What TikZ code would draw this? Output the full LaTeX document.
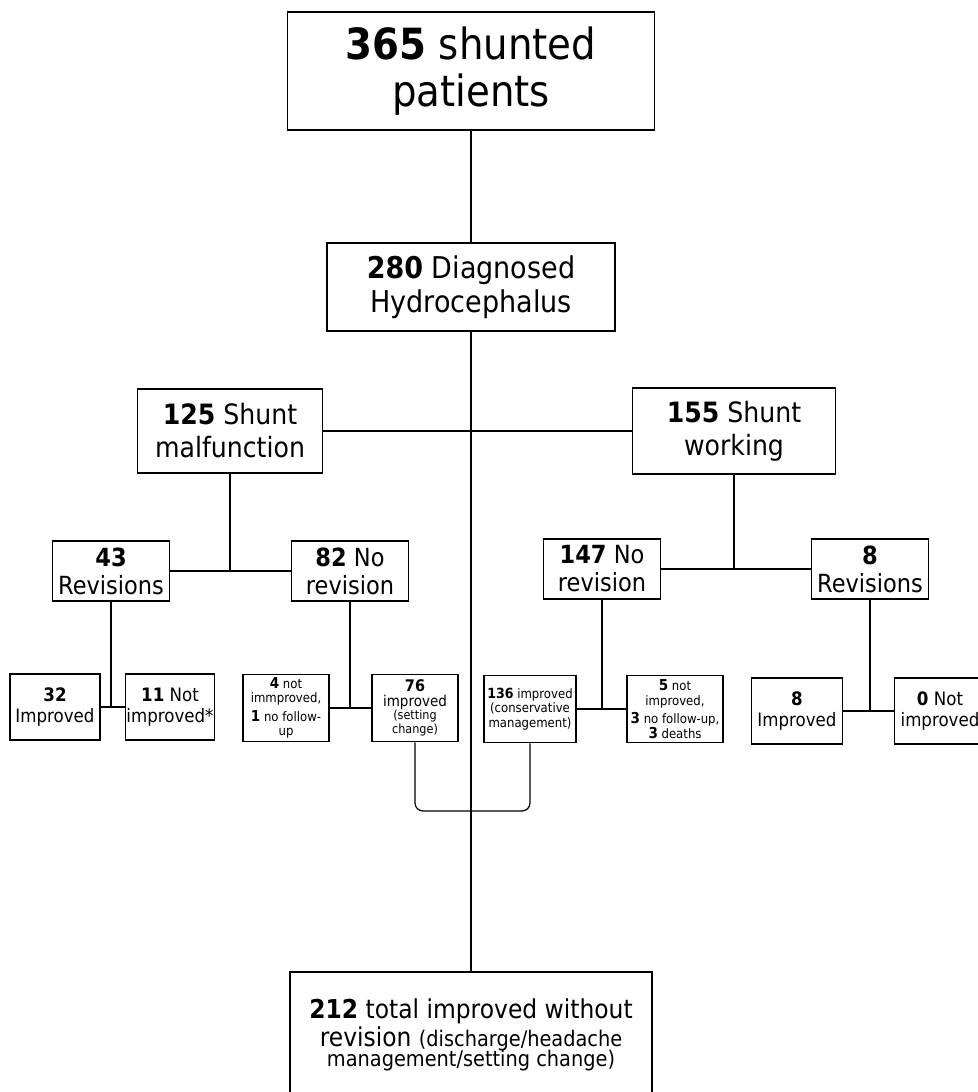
\documentclass[tikz,border=0pt]{standalone}
\usepackage{fontspec}
\setmainfont{DejaVu Sans}[FakeStretch=0.9]
\newcommand{\fsz}[2]{\fontsize{#1}{#2}\selectfont}

\begin{document}
\begin{tikzpicture}[x=1pt,y=-1pt,-,line width=1.7pt,
    main node/.style={draw,rectangle,align=center,inner sep=1pt,line width=1.7pt},
    big node/.style={main node,font=\fsz{28}{33}},
    mid node/.style={main node,font=\fsz{25}{28},minimum width=117pt,minimum height=60pt},
    small node/.style={main node,font=\fsz{18.5}{21},minimum width=90pt,minimum height=66pt},
    tiny node/.style={main node,font=\fsz{13}{14.5},minimum height=67pt}]
    \useasboundingbox (0,0) rectangle (977,1092);

    \node[main node,minimum width=367pt,minimum height=118pt,font=\fsz{43}{47}] (1) at (471,71) {\textbf{365} shunted\\patients};
    \node[big node,minimum width=288pt,minimum height=88pt,font=\fsz{30}{34}] (2) at (471,287) {\textbf{280} Diagnosed\\Hydrocephalus};
    \node[big node,minimum width=185pt,minimum height=84pt] (3) at (230,431) {\textbf{125} Shunt\\malfunction};
    \node[big node,minimum width=203pt,minimum height=86pt] (4) at (734,431) {\textbf{155} Shunt\\working};

    \node[mid node] (5) at (111,571) {\textbf{43}\\Revisions};
    \node[mid node] (6) at (350,571) {\textbf{82} No\\revision};
    \node[mid node] (7) at (602,569) {\textbf{147} No\\revision};
    \node[mid node] (8) at (870,569) {\textbf{8}\\Revisions};

    \node[small node] (9) at (55,707) {\textbf{32}\\Improved};
    \node[small node,minimum width=89pt] (10) at (170,707) {\textbf{11} Not\\improved*};
    \node[tiny node,minimum width=86pt] (11) at (286,708) {{\fsz{15}{15}\textbf{4}} not\\immproved,\\[4pt]{\fsz{15}{15}\textbf{1}} no follow-\\up};
    \node[tiny node,minimum width=86pt,font=\fsz{12.5}{13.5}] (12) at (415,708) {{\fsz{16}{16}\textbf{76}}\\[1pt]{\fsz{15}{15}improved}\\(setting\\change)};
    \node[tiny node,minimum width=92pt] (13) at (530,709) {{\fsz{14}{14}\textbf{136}} improved\\(conservative\\management)};
    \node[tiny node,minimum width=96pt] (14) at (675,709) {{\fsz{15}{15}\textbf{5}} not\\improved,\\[4pt]{\fsz{15}{15}\textbf{3}} no follow-up,\\{\fsz{15}{15}\textbf{3}} deaths};
    \node[small node,minimum width=91pt] (15) at (797,711) {\textbf{8}\\Improved};
    \node[small node,minimum width=91pt] (16) at (940,711) {\textbf{0} Not\\improved};

    \node[main node,minimum width=362pt,minimum height=126pt,font=\fsz{26}{28}] (17) at (471,1035) {\textbf{212} total improved without\\revision {\fsz{21.5}{21.5}(discharge/headache}\\[-8pt]{\fsz{21.5}{21.5}management/setting change)}};

    \coordinate (j3) at (3 |- 5);
    \coordinate (j4) at (4 |- 7);
    \coordinate (j5) at (5 |- 9);
    \coordinate (j6) at (6 |- 11);
    \coordinate (j7) at (7 |- 13);
    \coordinate (j8) at (8 |- 15);
    \coordinate (jb) at (471,811);

    \path
        (1) edge (2)
        (2) edge (17)
        (3) edge (4)
        (3) edge (j3)
        (5) edge (6)
        (4) edge (j4)
        (7) edge (8)
        (5) edge (j5)
        (9) edge (10)
        (6) edge (j6)
        (11) edge (12)
        (7) edge (j7)
        (13) edge (14)
        (8) edge (j8)
        (15) edge (16)
        ;
    \draw[line width=1.2pt,rounded corners=8pt] (12.south) |- (jb) -| (13.south);
\end{tikzpicture}
\end{document}
